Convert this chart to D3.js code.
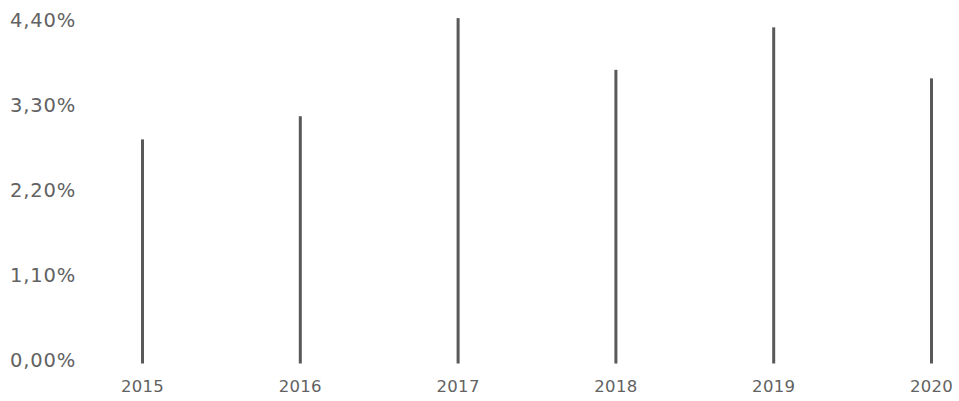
<!DOCTYPE html>
<html>
<head>
<meta charset="utf-8">
<script src="https://cdn.jsdelivr.net/npm/d3@7"></script>
<style>
  body { margin: 0; background: #fff; }
  text { font-family: "DejaVu Sans", sans-serif; fill: #626262; }
</style>
</head>
<body>
<div id="chart"></div>
<script>
var years = ["2015", "2016", "2017", "2018", "2019", "2020"];
var values = [2.90, 3.20, 4.47, 3.80, 4.35, 3.69];
var yTicks = [0, 1.1, 2.2, 3.3, 4.4];

var width = 959, height = 401;

var svg = d3.select("#chart").append("svg")
    .attr("width", width)
    .attr("height", height);

var x = d3.scalePoint().domain(years).range([142.5, 931.5]);
var y = d3.scaleLinear().domain([0, 4.4]).range([363.5, 23.5]);

var fmt = function (d) { return d.toFixed(2).replace(".", ",") + "%"; };

// y labels, no axis line
svg.append("g").selectAll("text")
    .data(yTicks).enter()
    .append("text")
    .attr("x", 76)
    .attr("y", function (d) { return y(d) - 3.5; })
    .attr("dy", "0.36em")
    .attr("text-anchor", "end")
    .attr("font-size", "19.5px")
    .attr("letter-spacing", "0.8px")
    .text(fmt);

// bars drawn as thin lines
svg.append("g").selectAll("rect")
    .data(values).enter()
    .append("rect")
    .attr("x", function (d, i) { return x(years[i]) - 1.5; })
    .attr("y", function (d) { return y(d); })
    .attr("width", 3)
    .attr("height", function (d) { return y(0) - y(d); })
    .attr("fill", "#595959");

// x labels
svg.append("g").selectAll("text")
    .data(years).enter()
    .append("text")
    .attr("x", function (d) { return x(d); })
    .attr("y", 392)
    .attr("text-anchor", "middle")
    .attr("font-size", "16.5px")
    .attr("letter-spacing", "0.3px")
    .text(function (d) { return d; });
</script>
</body>
</html>
